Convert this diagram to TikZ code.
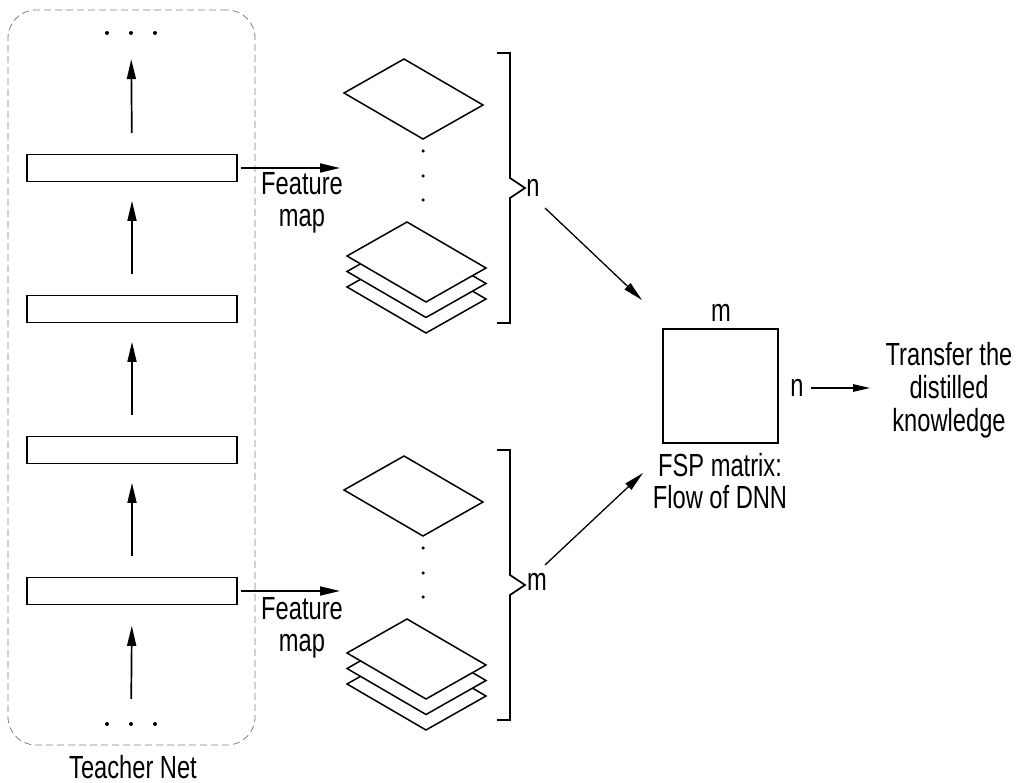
\documentclass[tikz,border=0pt]{standalone}
\usepackage{fontspec}
\setmainfont{Liberation Sans}[FakeStretch=0.74]
\usetikzlibrary{arrows.meta}
\begin{document}
\begin{tikzpicture}[x=1pt,y=-1pt,
  lbl/.style={font=\fontsize{32}{32}\selectfont, inner sep=0pt, anchor=base},
  layer/.style={draw, line width=1.8pt, minimum width=210pt, minimum height=27pt, inner sep=0pt},
  arr/.style={-{Triangle[length=20pt,width=9pt]}, line width=1.7pt},
  thinarr/.style={-{Triangle[length=20pt,width=8.5pt]}, line width=1.3pt},
  sheet/.style={draw, fill=white, line width=1.5pt, line join=miter},
  brk/.style={line width=1.7pt},
  dot/.style={circle, fill, inner sep=0pt, minimum size=4pt},
  sheetpic/.pic={\draw[sheet] (0,0) -- (79,46) -- (19,80) -- (-60,34) -- cycle;}
]
\useasboundingbox (0,0) rectangle (1016,783);

% Teacher net frame
\node[draw=gray, line width=0.8pt, dash pattern=on 7pt off 4pt, rounded corners=28pt,
      minimum width=247pt, minimum height=735pt, inner sep=0pt] (frame) at (131.5,377.5) {};

% layers
\node[layer] (r1) at (132,168) {};
\node[layer] (r2) at (132,309) {};
\node[layer] (r3) at (132,450) {};
\node[layer] (r4) at (132,591) {};

% dots
\node[dot] (td1) at (107,33) {};
\node[dot] (td2) at (131,33) {};
\node[dot] (td3) at (155,33) {};
\node[dot] (bd1) at (107,724) {};
\node[dot] (bd2) at (131,724) {};
\node[dot] (bd3) at (155,724) {};

% vertical arrows
\draw[arr, shorten <=20.5pt, shorten >=24pt] (r1.north) -- (td2);
\draw[arr, shorten <=20.5pt, shorten >=18.5pt] (r2.north) -- (r1.south);
\draw[arr, shorten <=20.5pt, shorten >=18.5pt] (r3.north) -- (r2.south);
\draw[arr, shorten <=20.5pt, shorten >=18.5pt] (r4.north) -- (r3.south);
\draw[arr, shorten <=23pt, shorten >=20.5pt] (bd2) -- (r4.south);

% feature map arrows
\coordinate (f1) at (340,168);
\coordinate (f2) at (340,591);
\draw[arr, shorten <=3pt] (r1.east) -- (f1);
\draw[arr, shorten <=3pt] (r4.east) -- (f2);
\node[lbl, align=center] (fm1) at (302,227) {Feature\\map};
\node[lbl, align=center] (fm2) at (302,651) {Feature\\map};

% upper feature maps
\pic at (404,59) {sheetpic};
\node[dot, minimum size=3.5pt] (ud1) at (423,151) {};
\node[dot, minimum size=3.5pt] (ud2) at (423,176) {};
\node[dot, minimum size=3.5pt] (ud3) at (423,200) {};
\pic at (407,253) {sheetpic};
\pic at (407,237.5) {sheetpic};
\pic at (407,222) {sheetpic};

% lower feature maps
\pic at (404,456) {sheetpic};
\node[dot, minimum size=3.5pt] (ld1) at (423,548) {};
\node[dot, minimum size=3.5pt] (ld2) at (423,573) {};
\node[dot, minimum size=3.5pt] (ld3) at (423,597) {};
\pic at (407,650) {sheetpic};
\pic at (407,634.5) {sheetpic};
\pic at (407,619) {sheetpic};

% brackets
\draw[brk] (497,53) -- (510,53) -- (510,178) -- (525,188) -- (510,198) -- (510,323) -- (497,323);
\draw[brk] (497,450) -- (510,450) -- (510,575) -- (525,585) -- (510,595) -- (510,720) -- (497,720);
\node[lbl] (nup) at (533,197) {n};
\node[lbl] (mlo) at (537,590) {m};

% FSP matrix
\node[draw, line width=1.8pt, minimum width=115pt, minimum height=114pt, inner sep=0pt] (fsp) at (720.5,386) {};
\node[lbl] (mtop) at (721,321) {m};
\node[lbl] (nright) at (797,396) {n};
\node[lbl, align=center, font=\fontsize{32}{32}\selectfont] (fspl) at (720,508) {FSP matrix:\\Flow of DNN};

% arrows to the matrix
\coordinate (a0) at (545,208);
\coordinate (a1) at (642,300);
\coordinate (b0) at (545,565);
\coordinate (b1) at (643,473);
\draw[thinarr] (a0) -- (a1);
\draw[thinarr] (b0) -- (b1);

% transfer
\coordinate (tr) at (870,388);
\draw[thinarr, -{Triangle[length=17pt,width=7.5pt]}] ([xshift=7pt]nright.east |- tr) -- (tr);
\node[lbl, align=center, font=\fontsize{32}{33}\selectfont] (tk) at (949,431) {Transfer the\\distilled\\knowledge};

% caption
\node[lbl] (tn) at (133,778) {Teacher Net};
\end{tikzpicture}
\end{document}
